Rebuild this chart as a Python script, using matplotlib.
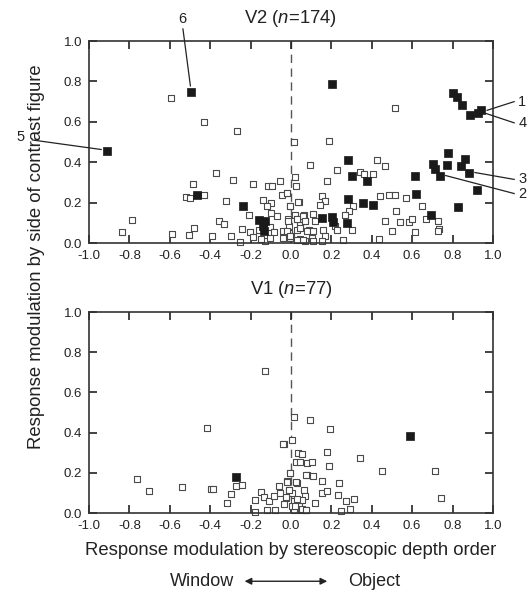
import numpy as np
import matplotlib
matplotlib.use('Agg')
from matplotlib import pyplot as plt

plt.rcParams['font.family'] = ['Liberation Sans', 'DejaVu Sans']
plt.rcParams['mathtext.fontset'] = 'custom'
plt.rcParams['mathtext.rm'] = 'Liberation Sans'
plt.rcParams['mathtext.it'] = 'Liberation Sans:italic'

x_ticks = [-1.0, -0.8, -0.6, -0.4, -0.2, 0.0, 0.2, 0.4, 0.6, 0.8, 1.0]
y_ticks = [0.0, 0.2, 0.4, 0.6, 0.8, 1.0]

# V2 - cells with significant depth-order effect (filled)
v2_fill_x = [-0.91, -0.495, -0.464, -0.238, -0.156, -0.13, -0.14, -0.135,
             0.201, 0.802, 0.824, 0.845, 0.885, 0.928, 0.941,
             0.778, 0.863, 0.703, 0.713, 0.771, 0.84, 0.881, 0.736, 0.613,
             0.921, 0.619, 0.829, 0.694,
             0.28, 0.30, 0.377, 0.282, 0.356, 0.404, 0.153, 0.204, 0.209, 0.275]
v2_fill_y = [0.458, 0.748, 0.236, 0.181, 0.115, 0.107, 0.082, 0.062,
             0.789, 0.741, 0.725, 0.685, 0.636, 0.644, 0.657,
             0.448, 0.417, 0.39, 0.367, 0.384, 0.379, 0.349, 0.334, 0.333,
             0.262, 0.245, 0.176, 0.137,
             0.409, 0.331, 0.305, 0.216, 0.196, 0.186, 0.122, 0.127, 0.102, 0.099]

# V2 - other cells (open)
v2_open_x = [-0.596, -0.432, -0.268, 0.017, -0.369, -0.288, -0.483, -0.189, -0.113, -0.094,
             -0.055, 0.018, 0.026, 0.092, -0.52, -0.50, -0.43, -0.321, -0.141, -0.099,
             -0.045, -0.02, -0.003, 0.038, -0.119, -0.21, -0.788, -0.836, -0.591, -0.503,
             -0.478, -0.392, -0.354, -0.334, -0.298, -0.243, -0.252, -0.205, -0.189, -0.157,
             -0.127, -0.103, -0.086, -0.07, -0.04, -0.015, -0.012, -0.01, -0.007, 0.0,
             0.018, 0.03, 0.046, 0.063, 0.071, 0.046, 0.071, 0.03, 0.088, -0.146,
             -0.103, -0.098,
             0.516, 0.189, 0.226, 0.342, 0.362, 0.407, 0.428, 0.466, 0.176, -0.021,
             0.44, 0.486, 0.517, 0.568, 0.152, 0.168, 0.036, -0.005, 0.143, 0.306,
             0.288, 0.267, 0.649, 0.519, 0.468, 0.542, 0.585, 0.597, 0.667, 0.728,
             0.733, 0.726, 0.502, 0.613, 0.437, 0.301, 0.259, 0.11, 0.119, 0.061,
             0.069, 0.028, -0.013, -0.021, -0.005, 0.044, 0.077, 0.11, 0.16, 0.217,
             0.226, 0.168, 0.152, 0.061, 0.028, 0.102, 0.11, -0.038]
v2_open_y = [0.717, 0.598, 0.554, 0.502, 0.346, 0.313, 0.292, 0.292, 0.283, 0.283,
             0.308, 0.329, 0.283, 0.387, 0.227, 0.222, 0.239, 0.206, 0.211, 0.198,
             0.236, 0.247, 0.181, 0.203, 0.181, 0.14, 0.115, 0.053, 0.044, 0.041,
             0.074, 0.033, 0.11, 0.096, 0.036, 0.069, 0.007, 0.053, 0.03, 0.066,
             0.008, 0.077, 0.053, 0.132, 0.058, 0.12, 0.082, 0.049, 0.025, 0.033,
             0.14, 0.12, 0.091, 0.14, 0.11, 0.02, 0.008, 0.066, 0.066, 0.02,
             0.025, 0.15,
             0.67, 0.504, 0.362, 0.354, 0.343, 0.343, 0.409, 0.379, 0.305, 0.25,
             0.231, 0.239, 0.236, 0.222, 0.234, 0.209, 0.203, 0.181, 0.19, 0.181,
             0.157, 0.14, 0.181, 0.16, 0.11, 0.104, 0.102, 0.12, 0.119, 0.107,
             0.069, 0.059, 0.061, 0.053, 0.02, 0.066, 0.013, 0.143, 0.107, 0.132,
             0.107, 0.12, 0.107, 0.058, 0.033, 0.074, 0.058, 0.058, 0.066, 0.082,
             0.066, 0.036, 0.008, 0.013, 0.016, 0.025, 0.008, 0.025]

# V1
v1_fill_x = [-0.272, 0.588]
v1_fill_y = [0.179, 0.385]

v1_open_x = [-0.127, -0.414, -0.76, -0.702, -0.54, -0.397, -0.384, -0.273, -0.243, -0.296,
             -0.315, -0.177, -0.18, -0.147, -0.136, -0.111, -0.086, -0.078, -0.053, -0.061,
             -0.033, 0.033, 0.026, -0.003, -0.02, -0.012, -0.026, 0.013, 0.03, 0.038,
             0.05, 0.075, 0.013, 0.005, -0.035, -0.119, 0.079, 0.079,
             0.016, 0.096, 0.193, 0.005, -0.038, 0.054, 0.046, 0.105, 0.178, 0.19,
             0.341, 0.451, 0.715, 0.741, 0.074, 0.11, 0.155, 0.239, -0.005, 0.025,
             -0.021, 0.066, 0.069, 0.156, 0.176, 0.234, 0.27, 0.311, 0.293, 0.25,
             0.119, 0.056, 0.028, -0.026, 0.003, 0.053, 0.074, 0.02, -0.008]
v1_open_y = [0.709, 0.425, 0.169, 0.111, 0.131, 0.119, 0.119, 0.136, 0.14, 0.094,
             0.05, 0.005, 0.063, 0.104, 0.079, 0.058, 0.086, 0.017, 0.099, 0.132,
             0.342, 0.298, 0.253, 0.198, 0.157, 0.116, 0.074, 0.058, 0.149, 0.033,
             0.017, 0.017, 0.017, 0.099, 0.046, 0.017, 0.19, 0.251,
             0.479, 0.461, 0.42, 0.362, 0.342, 0.294, 0.253, 0.253, 0.306, 0.235,
             0.273, 0.207, 0.208, 0.074, 0.19, 0.182, 0.159, 0.15, 0.197, 0.152,
             0.152, 0.116, 0.086, 0.101, 0.111, 0.088, 0.058, 0.069, 0.021, 0.01,
             0.051, 0.063, 0.071, 0.078, 0.033, 0.02, 0.013, 0.033, 0.116]

# labelled example cells: (label, point x, point y, text x, text y)
v2_labels = [('1', 0.941, 0.657, 1.125, 0.70),
             ('4', 0.928, 0.644, 1.125, 0.595),
             ('3', 0.881, 0.349, 1.125, 0.315),
             ('2', 0.736, 0.334, 1.125, 0.245),
             ('5', -0.91, 0.458, -1.32, 0.525),
             ('6', -0.495, 0.748, -0.54, 1.11)]

fig = plt.figure(figsize=(5.28, 5.98), dpi=100)
ax1 = fig.add_axes([0.1686, 0.5936, 0.765, 0.3378])
ax2 = fig.add_axes([0.1686, 0.1421, 0.765, 0.3361])

edge = '#4a4a4a'
txt = '#222222'


def style_axis(ax, title):
    ax.set_xlim(-1.0, 1.0)
    ax.set_ylim(0.0, 1.0)
    ax.plot([0, 0], [0, 1], color='#555555', lw=1.0, dashes=(6, 4), zorder=1)
    ax.set_xticks(x_ticks)
    ax.set_yticks(y_ticks)
    ax.set_xticklabels(['%.1f' % v for v in x_ticks])
    ax.set_yticklabels(['%.1f' % v for v in y_ticks])
    ax.tick_params(direction='in', length=6, width=1.2, top=True, right=True,
                   labelsize=9.5, colors=txt, pad=5)
    for s in ax.spines.values():
        s.set_linewidth(1.2)
        s.set_color('#333333')
    ax.set_title(title, fontsize=13.3, pad=13, color=txt)


style_axis(ax1, r'V2 ($\mathit{n}$=174)')
style_axis(ax2, r'V1 ($\mathit{n}$=77)')

ax1.scatter(v2_open_x, v2_open_y, s=20, marker='s', facecolor='white',
            edgecolor=edge, linewidth=0.8, zorder=2, clip_on=False)
ax1.scatter(v2_fill_x, v2_fill_y, s=36, marker='s', facecolor='#1a1a1a',
            edgecolor='#1a1a1a', linewidth=0.5, zorder=3, clip_on=False)
ax2.scatter(v1_open_x, v1_open_y, s=20, marker='s', facecolor='white',
            edgecolor=edge, linewidth=0.8, zorder=2, clip_on=False)
ax2.scatter(v1_fill_x, v1_fill_y, s=36, marker='s', facecolor='#1a1a1a',
            edgecolor='#1a1a1a', linewidth=0.5, zorder=3, clip_on=False)

for lab, px, py, tx, ty in v2_labels:
    if tx > 0:
        ha = 'left'
        start = (px + 0.03, py)
        end = (tx - 0.02, ty)
    elif lab == '5':
        ha = 'right'
        start = (px - 0.03, py + 0.005)
        end = (tx + 0.04, ty - 0.015)
    else:
        ha = 'center'
        start = (px - 0.003, py + 0.03)
        end = (tx + 0.005, ty - 0.05)
    ax1.plot([start[0], end[0]], [start[1], end[1]], color=txt, lw=0.9,
             clip_on=False, zorder=4)
    ax1.text(tx, ty, lab, fontsize=10.5, ha=ha, va='center', color=txt,
             clip_on=False)

ax2.set_xlabel('Response modulation by stereoscopic depth order', fontsize=13.3,
               labelpad=7, color=txt)
fig.text(0.070, 0.571, 'Response modulation by side of contrast figure',
         rotation=90, ha='center', va='center', fontsize=13.3, color=txt)

# Window <-> Object
fig.text(0.443, 0.028, 'Window', ha='right', va='center', fontsize=13, color=txt)
fig.text(0.659, 0.028, 'Object', ha='left', va='center', fontsize=13, color=txt)
fig.patches.append(matplotlib.patches.FancyArrowPatch(
    (0.458, 0.028), (0.625, 0.028), transform=fig.transFigure,
    arrowstyle='<|-|>', mutation_scale=10, lw=1.0, color=txt))

fig.savefig('out.png', dpi=100)
